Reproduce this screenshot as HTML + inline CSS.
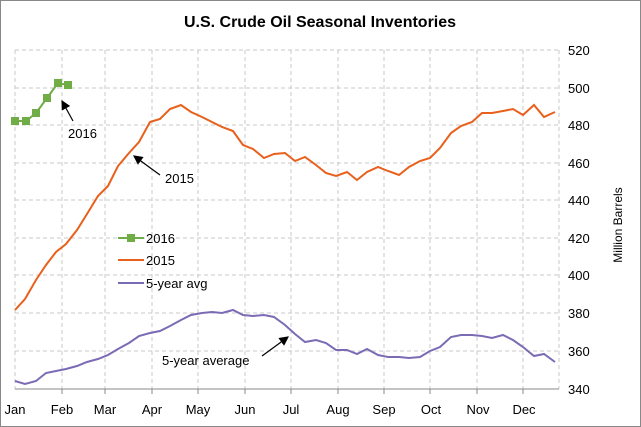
<!DOCTYPE html><html><head><style>body{margin:0;background:#fff}svg{display:block;font-family:"Liberation Sans",sans-serif}</style></head><body>
<svg width="641" height="427" viewBox="0 0 641 427">
<rect x="0.5" y="0.5" width="640" height="426" fill="#fff" stroke="#888"/>
<text x="320" y="27" text-anchor="middle" font-size="16" font-weight="bold">U.S. Crude Oil Seasonal Inventories</text>
<g stroke="#c8c8c8" stroke-dasharray="4,3" fill="none">
<path d="M15 50H559M15 88H559M15 125H559M15 163H559M15 200H559M15 238H559M15 275H559M15 313H559M15 351H559"/>
<path d="M15 50V389M62 50V389M105 50V389M152 50V389M198 50V389M245 50V389M291 50V389M338 50V389M384 50V389M430 50V389M477 50V389M523 50V389M559 50V389"/>
</g>
<path d="M15 389H559" stroke="#888"/>
<g stroke="#888"><path d="M62 389v5M105 389v5M152 389v5M198 389v5M245 389v5M291 389v5M338 389v5M384 389v5M430 389v5M477 389v5M523 389v5"/></g>
<g font-size="13" fill="#000">
<text x="568" y="55">520</text><text x="568" y="93">500</text><text x="568" y="130">480</text><text x="568" y="168">460</text><text x="568" y="205">440</text><text x="568" y="243">420</text><text x="568" y="280">400</text><text x="568" y="318">380</text><text x="568" y="356">360</text><text x="568" y="394">340</text>
</g>
<text x="622" y="225" font-size="12" transform="rotate(-90 622 225)" text-anchor="middle">Million Barrels</text>
<g font-size="13" text-anchor="middle">
<text x="15" y="414">Jan</text><text x="62" y="414">Feb</text><text x="105" y="414">Mar</text><text x="152" y="414">Apr</text><text x="198" y="414">May</text><text x="245" y="414">Jun</text><text x="291" y="414">Jul</text><text x="338" y="414">Aug</text><text x="384" y="414">Sep</text><text x="431" y="414">Oct</text><text x="478" y="414">Nov</text><text x="524" y="414">Dec</text>
</g>
<polyline fill="none" stroke="#e8601c" stroke-width="2" points="15,310 25,299 36,280 46,265 56,252 66,244 77,230 87,214 98,196 108,186 118,166 129,153 139,142 150,122 160,119 170,109 181,105 191,112 202,117 212,122 222,127 233,131 243,145 253,149 264,158 274,154 285,153 295,161 305,157 316,165 326,173 336,176 347,172 357,180 367,172 378,167 388,171 399,175 409,167 420,161 430,158 440,148 451,133 461,126 472,122 482,113 492,113 503,111 513,109 523,115 534,105 544,117 555,112"/>
<polyline fill="none" stroke="#7b6bb5" stroke-width="2" points="15,381 25,384 36,381 46,373 56,371 66,369 77,366 87,362 98,359 108,355 118,349 129,343 139,336 150,333 160,331 170,326 181,320 191,315 202,313 212,312 222,313 233,310 243,315 253,316 264,315 274,317 285,325 295,334 305,342 316,340 326,343 336,350 347,350 357,354 367,349 378,355 388,357 399,357 409,358 420,357 430,351 440,347 451,337 461,335 472,335 482,336 492,338 503,335 513,340 523,347 534,356 544,354 555,362"/>
<polyline fill="none" stroke="#70ad47" stroke-width="2" points="15,121 26,121 36,113 47,98 58,83 68,85"/>
<g fill="#70ad47"><rect x="11" y="117" width="8" height="8"/><rect x="22" y="117" width="8" height="8"/><rect x="32" y="109" width="8" height="8"/><rect x="43" y="94" width="8" height="8"/><rect x="54" y="79" width="8" height="8"/><rect x="64" y="81" width="8" height="8"/></g>
<defs><marker id="a" markerWidth="8" markerHeight="8" refX="7" refY="4" orient="auto"><path d="M0,0L8,4L0,8z" fill="#000"/></marker></defs>
<g stroke="#000" stroke-width="1.2" marker-end="url(#a)"><line x1="73" y1="121" x2="62" y2="101"/><line x1="160" y1="175" x2="134" y2="156"/><line x1="262" y1="356" x2="288" y2="337"/></g>
<g font-size="13"><text x="68" y="138">2016</text><text x="165" y="183">2015</text><text x="162" y="365">5-year average</text></g>
<path d="M118 238H144" stroke="#70ad47" stroke-width="2"/><rect x="127" y="234" width="8" height="8" fill="#70ad47"/>
<path d="M118 260H144" stroke="#e8601c" stroke-width="2"/>
<path d="M118 283H144" stroke="#7b6bb5" stroke-width="2"/>
<g font-size="13"><text x="146" y="243">2016</text><text x="146" y="265">2015</text><text x="146" y="288">5-year avg</text></g>
</svg></body></html>
